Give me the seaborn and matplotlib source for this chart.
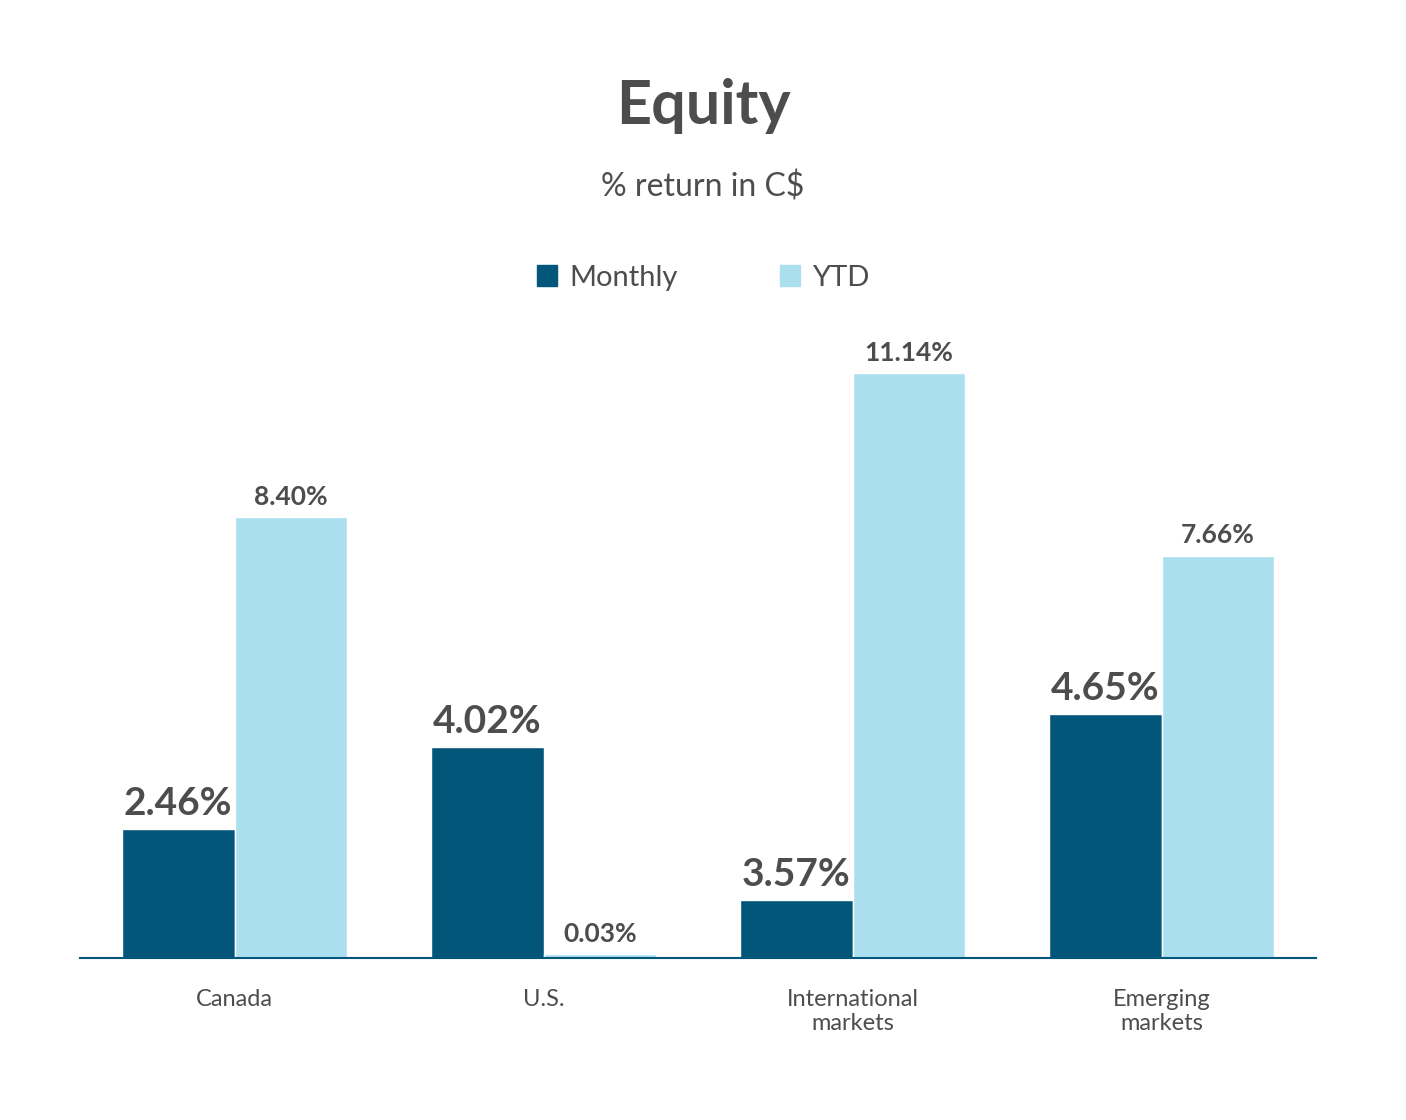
import pandas as pd
import matplotlib
matplotlib.use('Agg')
import matplotlib.pyplot as plt
from matplotlib.patches import Patch
import seaborn as sns

categories = ['Canada', 'U.S.', 'International\nmarkets', 'Emerging\nmarkets']
# bar heights as drawn in the reference (International monthly bar is drawn short)
monthly_heights = [2.46, 4.02, 1.10, 4.65]
ytd_heights = [8.40, 0.08, 11.14, 7.66]
monthly_labels = ['2.46%', '4.02%', '3.57%', '4.65%']
ytd_labels = ['8.40%', '0.03%', '11.14%', '7.66%']

dark = '#02567a'
light = '#abdff0'
txt = '#4d4d4d'

sns.set_style('white')
plt.rcParams['font.family'] = ['Lato', 'DejaVu Sans']

df = pd.DataFrame({
    'cat': categories * 2,
    'series': ['Monthly'] * 4 + ['YTD'] * 4,
    'val': monthly_heights + ytd_heights,
})

fig = plt.figure(figsize=(14.06, 11.2), dpi=100)
ax = fig.add_axes([0.057, 0.1446, 0.879, 0.5875])
sns.barplot(data=df, x='cat', y='val', hue='series', palette=[dark, light],
            width=0.73, ax=ax, legend=False, saturation=1)
ax.set_ylim(0, 12.53)
ax.set_xlim(-0.5, 3.5)
ax.set_yticks([])
ax.set_xlabel('')
ax.set_ylabel('')
for s in ['top', 'left', 'right']:
    ax.spines[s].set_visible(False)
ax.spines['bottom'].set_color(dark)
ax.spines['bottom'].set_linewidth(1.5)
ax.tick_params(axis='x', length=0, pad=22, labelsize=17, labelcolor=txt)

for cont, labs, size in [(ax.containers[0], monthly_labels, 28), (ax.containers[1], ytd_labels, 19)]:
    ax.bar_label(cont, labels=labs, padding=6, fontsize=size, fontweight='bold', color=txt)

fig.text(0.5, 0.905, 'Equity', ha='center', va='center', fontsize=44, fontweight='bold', color=txt)
fig.text(0.5, 0.833, '% return in C$', ha='center', va='center', fontsize=23, color=txt)
handles = [Patch(color=dark, label='Monthly'), Patch(color=light, label='YTD')]
fig.legend(handles=handles, loc='center', bbox_to_anchor=(0.5, 0.752), ncol=2, frameon=False,
           fontsize=21, labelcolor=txt, handlelength=0.7, handleheight=0.7,
           handletextpad=0.4, columnspacing=3.5)

fig.savefig('out.png', dpi=100, facecolor='white')
